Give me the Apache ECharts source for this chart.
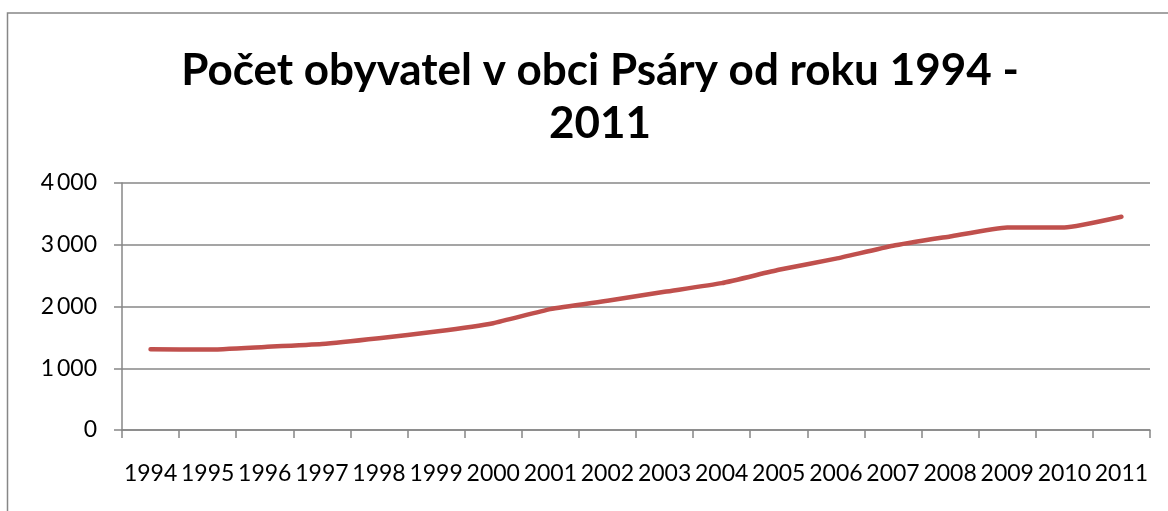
<!DOCTYPE html>
<html lang="cs">
  <head>
    <meta charset="utf-8" />
    <script src="https://cdn.jsdelivr.net/npm/echarts@6/dist/echarts.min.js"></script>
    <title>Počet obyvatel v obci Psáry</title>
    <style>
      html, body { margin: 0; padding: 0; background: #fff; }
      #chart { width: 1168px; height: 511px; }
    </style>
  </head>
  <body>
    <div id="chart"></div>
    <script>
      // values
      var years = ['1994', '1995', '1996', '1997', '1998', '1999', '2000', '2001', '2002',
        '2003', '2004', '2005', '2006', '2007', '2008', '2009', '2010', '2011']
      var population = [1309, 1302, 1346, 1394, 1487, 1594, 1730, 1957, 2092,
        2238, 2378, 2595, 2775, 2984, 3135, 3281, 3281, 3454]
      var titleText = 'Počet obyvatel v obci Psáry od roku 1994 -\n2011'

      var gray = '#878787'
      var font = 'Lato, "Open Sans", sans-serif'

      var chart = echarts.init(document.getElementById('chart'))
      chart.setOption({
        animation: false,
        // outer frame of the chart area, cut off at right and bottom
        graphic: [{
          type: 'rect',
          shape: { x: 7.5, y: 13, width: 1300, height: 600 },
          style: { fill: 'none', stroke: gray, lineWidth: 1.5 },
          silent: true
        }],
        title: {
          text: titleText,
          left: 595,
          top: 39,
          textAlign: 'center',
          textStyle: {
            fontFamily: font,
            fontWeight: 'bold',
            fontSize: 44,
            lineHeight: 53,
            color: '#000'
          }
        },
        grid: { left: 122, right: 18, top: 183, bottom: 81, containLabel: false },
        xAxis: {
          type: 'category',
          data: years,
          boundaryGap: true,
          axisLine: { lineStyle: { color: gray, width: 1.5 } },
          axisTick: { show: true, length: 8, interval: 0, lineStyle: { color: gray, width: 1.5 } },
          axisLabel: {
            interval: 0,
            margin: 32,
            fontFamily: font,
            fontSize: 23,
            color: '#000'
          }
        },
        yAxis: {
          type: 'value',
          min: 0,
          max: 4000,
          interval: 1000,
          axisLine: { show: true, lineStyle: { color: gray, width: 1.5 } },
          axisTick: { show: true, length: 8, lineStyle: { color: gray, width: 1.5 } },
          splitLine: { lineStyle: { color: gray, width: 1.5 } },
          axisLabel: {
            margin: 25,
            fontFamily: font,
            fontSize: 23,
            color: '#000',
            formatter: function (v) {
              return String(v).replace(/\B(?=(\d{3})+(?!\d))/g, '\u2009')
            }
          }
        },
        series: [{
          type: 'line',
          data: population,
          showSymbol: false,
          smooth: 0.15,
          lineStyle: { color: '#C0504D', width: 4.5, cap: 'round', join: 'round' }
        }]
      })
    </script>
  </body>
</html>
